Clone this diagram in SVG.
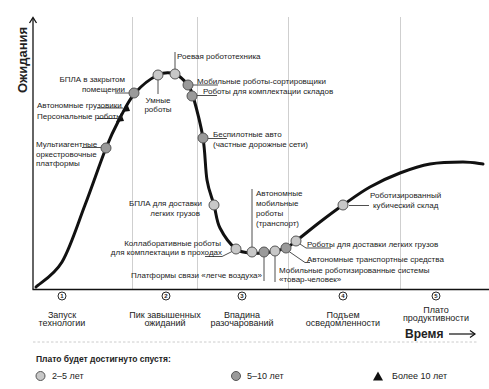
<svg xmlns="http://www.w3.org/2000/svg" width="489" height="389" viewBox="0 0 489 389">
<style>
text{font-family:"Liberation Sans",Arial,sans-serif;fill:#222}
.l{font-size:8px}
.ph{font-size:9px;text-anchor:middle}
.e{text-anchor:end}
.m{text-anchor:middle}
.grid{stroke:#cfcfcf;stroke-width:1;fill:none}
.ax{stroke:#111;stroke-width:1.3;fill:none}
.ld{stroke:#222;stroke-width:0.8;fill:none}
.c1{fill:#c8c8c8;stroke:#555;stroke-width:1}
.c2{fill:#9a9a9a;stroke:#555;stroke-width:1}
.tri{fill:#111}
.num{fill:#fff;stroke:#111;stroke-width:0.9}
.nt{font-size:6px;font-weight:bold;text-anchor:middle}
</style>
<rect width="489" height="389" fill="#fff"/>
<g id="grid">
<line class="grid" x1="132.5" y1="17" x2="132.5" y2="289"/>
<line class="grid" x1="197.5" y1="17" x2="197.5" y2="289"/>
<line class="grid" x1="288.5" y1="17" x2="288.5" y2="289"/>
<line class="grid" x1="400.5" y1="17" x2="400.5" y2="289"/>
</g>
<g id="axes">
<line class="ax" x1="33" y1="289.5" x2="33" y2="18"/>
<polyline class="ax" points="29.5,23 33,17.5 36.5,23"/>
<line class="ax" x1="32.5" y1="289.5" x2="489" y2="289.5"/>
<text x="0" y="0" transform="translate(27,60) rotate(-90)" style="font-size:13px;font-weight:bold;text-anchor:middle">Ожидания</text>
<text x="405" y="337.5" style="font-size:12px;font-weight:bold">Время</text>
<line x1="449" y1="334" x2="475" y2="334" stroke="#111" stroke-width="1.2"/>
<polyline points="470,330.5 475,334 470,337.5" fill="none" stroke="#111" stroke-width="1.2"/>
</g>
<g id="connectors">
<path d="M36,287 C40.3,282.8 53.8,275.7 62,262 C70.2,248.3 77.7,224 85,205 C92.3,186 100.2,162.5 106,148 C111.8,133.5 115.2,127.2 120,118 C124.8,108.8 128.7,100.2 135,93 C141.3,85.8 151.3,78.2 158,75 C164.7,71.8 170,72.3 175,74 C180,75.7 185,81.3 188,85 C190.5,88 191,90 193,96 C195.5,104.8 200.7,124 203,138 C205.3,152 205.2,168.8 207,180 C208.8,191.2 211.8,197 214,205 C216.2,213 216.3,220.7 220,228 C223.7,235.3 230.7,244.8 236,249 C241.3,253 247.3,252.8 252,253 C256.7,253.4 260.2,253.3 264,253 C267.8,252.7 271.3,251.8 275,251 C278.7,250.2 282.5,249.7 286,248 C289.5,246.3 290.3,245.3 296,241 C301.7,236.7 312.2,228 320,222 C327.8,216 334.7,210.8 343,205 C351.3,199.2 360.5,192.3 370,187 C379.5,181.7 390,176.8 400,173 C410,169.2 419.5,165.8 430,164 C440.5,162.2 454.2,162 463,162 C471.8,162 479.7,163.7 483,164" fill="none" stroke="#111" stroke-width="3" stroke-linecap="round"/>
<line class="ld" x1="82" y1="147.5" x2="101" y2="147.5"/>
<line class="ld" x1="97" y1="118.5" x2="117" y2="118.5"/>
<line class="ld" x1="97" y1="108" x2="123" y2="108"/>
<line class="ld" x1="115" y1="93" x2="129" y2="93"/>
<line class="ld" x1="158" y1="80" x2="158" y2="94"/>
<line class="ld" x1="175" y1="52" x2="175" y2="69"/>
<line class="ld" x1="193" y1="85" x2="218" y2="85"/>
<line class="ld" x1="197" y1="95.5" x2="217" y2="95.5"/>
<line class="ld" x1="208" y1="138.5" x2="227" y2="138.5"/>
<polyline class="ld" points="205,256.5 222,256.5 232,251.5"/>
<line class="ld" x1="252" y1="189" x2="252" y2="247"/>
<line class="ld" x1="264" y1="257" x2="264" y2="281"/>
<line class="ld" x1="275" y1="256" x2="275" y2="282"/>
<polyline class="ld" points="289,251.5 305,262.5 310,262.5"/>
<polyline class="ld" points="300,244 306,248 331,248"/>
<line class="ld" x1="349" y1="205.5" x2="369" y2="205.5"/>
</g>
<g id="n-multiagent"><circle class="c2" cx="106" cy="148" r="5"/><text class="l" x="36" y="146.5">Мультиагентные</text><text class="l" x="36" y="156.5">оркестровочные</text><text class="l" x="36" y="166">платформы</text></g>
<g id="n-personal"><polygon class="tri" points="116,122 124,121 121,113"/><text class="l" x="37" y="119">Персональные роботы</text></g>
<g id="n-trucks"><polygon class="tri" points="122,112 130,111 127,103"/><text class="l" x="37" y="108">Автономные грузовики</text></g>
<g id="n-bpla-indoor"><circle class="c2" cx="134" cy="93" r="5"/><text class="l e" x="125" y="82">БПЛА в закрытом</text><text class="l e" x="125" y="92">помещении</text></g>
<g id="n-smart"><circle class="c1" cx="158" cy="75" r="5"/><text class="l m" x="158" y="103">Умные</text><text class="l m" x="158" y="112">роботы</text></g>
<g id="n-swarm"><circle class="c1" cx="175" cy="74" r="5"/><text class="l" x="177" y="59">Роевая робототехника</text></g>
<g id="n-sorting"><circle class="c2" cx="188" cy="85" r="5"/><text class="l" x="197" y="84">Мобильные роботы-сортировщики</text></g>
<g id="n-picking"><circle class="c2" cx="192" cy="96" r="5"/><text class="l" x="203" y="93.5">Роботы для комплектации складов</text></g>
<g id="n-cars"><circle class="c2" cx="203" cy="138" r="5"/><text class="l" x="213" y="136.5">Беспилотные авто</text><text class="l" x="213" y="146.5">(частные дорожные сети)</text></g>
<g id="n-bpla-delivery"><circle class="c1" cx="214" cy="205" r="5"/><text class="l e" x="202" y="205.5">БПЛА для доставки</text><text class="l e" x="200" y="215.5">легких грузов</text></g>
<g id="n-cobots"><circle class="c1" cx="236" cy="249" r="5"/><text class="l e" x="221" y="245.5">Коллаборативные роботы</text><text class="l e" x="222" y="254.5">для комплектации в проходах</text></g>
<g id="n-amr"><circle class="c1" cx="252" cy="252" r="5"/><text class="l" x="256" y="195.5">Автономные</text><text class="l" x="256" y="205.5">мобильные</text><text class="l" x="256" y="215.5">роботы</text><text class="l" x="256" y="225.5">(транспорт)</text></g>
<g id="n-platforms"><circle class="c2" cx="264" cy="252" r="5"/><text class="l e" x="262" y="277.5">Платформы связи «легче воздуха»</text></g>
<g id="n-g2p"><circle class="c1" cx="275" cy="251" r="5"/><text class="l" x="279" y="272.5">Мобильные роботизированные системы</text><text class="l" x="279" y="281.5">«товар-человек»</text></g>
<g id="n-av"><circle class="c2" cx="286" cy="248" r="5"/><text class="l" x="307" y="261.5">Автономные транспортные средства</text></g>
<g id="n-delivery-robots"><circle class="c1" cx="296" cy="241" r="5"/><text class="l" x="307" y="246.5">Роботы для доставки легких грузов</text></g>
<g id="n-cubic"><circle class="c1" cx="343" cy="205" r="5"/><text class="l" x="370" y="197.5">Роботизированный</text><text class="l" x="373" y="207.5">кубический склад</text></g>
<g id="phases">
<circle class="num" cx="62" cy="296" r="4"/><text class="nt" x="62" y="298.2">1</text>
<circle class="num" cx="166" cy="296" r="4"/><text class="nt" x="166" y="298.2">2</text>
<circle class="num" cx="242" cy="296" r="4"/><text class="nt" x="242" y="298.2">3</text>
<circle class="num" cx="343" cy="296" r="4"/><text class="nt" x="343" y="298.2">4</text>
<circle class="num" cx="436" cy="296" r="4"/><text class="nt" x="436" y="298.2">5</text>
<text class="ph" x="62" y="317.5">Запуск</text><text class="ph" x="62" y="326">технологии</text>
<text class="ph" x="165" y="317.5">Пик завышенных</text><text class="ph" x="165" y="326">ожиданий</text>
<text class="ph" x="242" y="317.5">Впадина</text><text class="ph" x="242" y="326">разочарований</text>
<text class="ph" x="343" y="317.5">Подъем</text><text class="ph" x="343" y="326">осведомленности</text>
<text class="ph" x="436" y="312.5">Плато</text><text class="ph" x="436" y="321">продуктивности</text>
</g>
<g id="legend">
<line x1="33" y1="342" x2="477" y2="342" stroke="#ccc" stroke-width="1" stroke-dasharray="2.5 2"/>
<text x="36" y="362" style="font-size:8.5px;font-weight:bold">Плато будет достигнуто спустя:</text>
<circle class="c1" cx="40.5" cy="376" r="4.5"/><text x="52" y="379" style="font-size:9px">2–5 лет</text>
<circle class="c2" cx="236" cy="376" r="4.5"/><text x="247" y="379" style="font-size:9px">5–10 лет</text>
<polygon class="tri" points="373,380.5 383,380.5 378,371.5"/><text x="392" y="379" style="font-size:9px">Более 10 лет</text>
</g>
</svg>
